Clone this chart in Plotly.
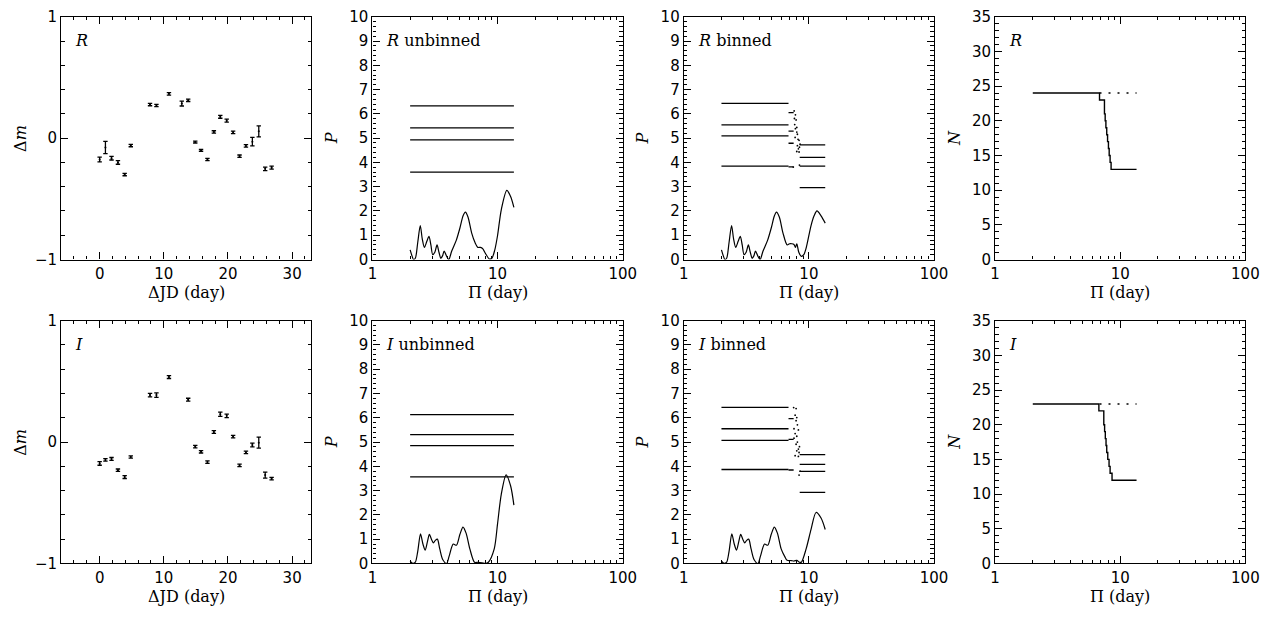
import plotly.graph_objects as go

W, H = 1283, 621

# ---------------- data ----------------
# light curves (ΔJD, Δm, error)
R_t = [0.0, 0.9, 1.85, 2.85, 3.9, 4.85, 7.85, 8.85, 10.8, 12.8, 13.8, 14.9, 15.8, 16.8,
       17.8, 18.8, 19.8, 20.8, 21.8, 22.8, 23.8, 24.8, 25.8, 26.8]
R_dm = [-0.176, -0.077, -0.165, -0.20, -0.30, -0.061, 0.277, 0.269, 0.365, 0.285, 0.312,
        -0.032, -0.10, -0.176, 0.051, 0.176, 0.144, 0.048, -0.149, -0.064, -0.029, 0.056,
        -0.253, -0.243]
R_err = [0.02, 0.05, 0.015, 0.015, 0.01, 0.01, 0.01, 0.01, 0.01, 0.02, 0.01, 0.008, 0.008,
         0.01, 0.01, 0.012, 0.012, 0.01, 0.01, 0.01, 0.035, 0.045, 0.015, 0.012]

I_t = [0.0, 0.9, 1.85, 2.85, 3.9, 4.85, 7.85, 8.85, 10.8, 13.8, 14.9, 15.8, 16.8, 17.8,
       18.8, 19.8, 20.8, 21.8, 22.8, 23.8, 24.8, 25.8, 26.8]
I_dm = [-0.176, -0.147, -0.139, -0.232, -0.288, -0.123, 0.387, 0.387, 0.536, 0.349, -0.037,
        -0.08, -0.165, 0.083, 0.229, 0.216, 0.045, -0.192, -0.085, -0.024, -0.005, -0.272,
        -0.301]
I_err = [0.015, 0.01, 0.012, 0.01, 0.012, 0.01, 0.015, 0.018, 0.012, 0.012, 0.01, 0.01, 0.01,
         0.012, 0.018, 0.015, 0.01, 0.01, 0.01, 0.015, 0.045, 0.025, 0.01]

# periodograms (period in days, power P)
R_unb_per = [2.0, 2.07, 2.13, 2.2, 2.3, 2.41, 2.5, 2.6, 2.72, 2.83, 2.93, 3.03, 3.15, 3.28,
             3.4, 3.52, 3.63, 3.74, 3.9, 4.07, 4.3, 4.68, 5.0, 5.3, 5.53, 5.8, 6.2, 6.6,
             6.96, 7.3, 7.6, 8.0, 8.6, 9.0, 9.5, 10.0, 10.7, 11.85, 12.7, 13.5]
R_unb_pow = [0.40, 0.15, 0.0, 0.05, 0.7, 1.40, 0.85, 0.50, 0.75, 0.95, 0.6, 0.2, 0.3, 0.6,
             0.3, 0.05, 0.15, 0.35, 0.15, 0.0, 0.35, 0.8, 1.3, 1.8, 1.95, 1.75, 1.1, 0.7,
             0.5, 0.5, 0.45, 0.25, 0.02, 0.05, 0.4, 1.0, 2.05, 2.85, 2.6, 2.15]

R_bin_per = [2.0, 2.07, 2.13, 2.2, 2.3, 2.41, 2.5, 2.6, 2.72, 2.83, 2.93, 3.03, 3.15, 3.28,
             3.4, 3.52, 3.63, 3.74, 3.9, 4.07, 4.3, 4.68, 5.0, 5.3, 5.5, 5.8, 6.2, 6.7,
             7.0, 7.3, 7.6, 7.8, 8.0, 8.3, 8.7, 9.1, 9.5, 10.4, 11.0, 11.6, 12.5, 13.5]
R_bin_pow = [0.40, 0.15, 0.0, 0.05, 0.7, 1.40, 0.85, 0.50, 0.75, 0.95, 0.6, 0.2, 0.3, 0.6,
             0.3, 0.05, 0.15, 0.35, 0.15, 0.0, 0.35, 0.8, 1.3, 1.8, 1.95, 1.75, 1.1, 0.6,
             0.65, 0.65, 0.62, 0.5, 0.65, 0.3, 0.13, 0.2, 0.47, 1.4, 1.8, 2.0, 1.8, 1.5]

I_unb_per = [2.0, 2.1, 2.2, 2.3, 2.42, 2.53, 2.64, 2.75, 2.85, 2.96, 3.07, 3.18, 3.3, 3.45,
             3.65, 3.91, 4.1, 4.42, 4.69, 5.0, 5.29, 5.6, 6.0, 6.54, 7.0, 7.5, 8.0, 8.44,
             9.4, 10.0, 10.7, 11.7, 12.7, 13.5]
I_unb_pow = [0.1, 0.0, 0.05, 0.5, 1.22, 0.8, 0.55, 0.9, 1.2, 1.0, 0.85, 0.95, 1.0, 0.6,
             0.15, 0.0, 0.3, 0.8, 0.75, 1.2, 1.5, 1.25, 0.6, 0.05, 0.05, 0.03, 0.0, 0.05,
             0.6, 1.65, 2.85, 3.65, 3.2, 2.4]

I_bin_per = [2.0, 2.1, 2.2, 2.3, 2.42, 2.53, 2.64, 2.75, 2.85, 2.96, 3.07, 3.18, 3.3, 3.45,
             3.65, 3.91, 4.1, 4.42, 4.69, 5.0, 5.29, 5.6, 6.0, 6.43, 6.7, 7.2, 7.6, 8.0,
             8.4, 8.7, 9.5, 10.4, 11.4, 12.5, 13.5]
I_bin_pow = [0.1, 0.0, 0.05, 0.5, 1.22, 0.8, 0.55, 0.9, 1.2, 1.0, 0.85, 0.95, 1.0, 0.6,
             0.15, 0.0, 0.3, 0.8, 0.75, 1.2, 1.5, 1.25, 0.6, 0.27, 0.13, 0.12, 0.1, 0.13,
             0.05, 0.05, 0.6, 1.4, 2.1, 1.87, 1.4]

# false-alarm threshold levels
R_unb_lev = [6.33, 5.42, 4.93, 3.60]
I_unb_lev = [6.13, 5.31, 4.85, 3.57]
R_bin_lev_lo = [6.43, 5.55, 5.09, 3.85]
R_bin_lev_hi = [4.72, 4.21, 3.85, 2.96]
I_bin_lev_lo = [6.43, 5.55, 5.07, 3.87]
I_bin_lev_hi = [4.48, 4.08, 3.79, 2.93]
lev_span = [2.0, 13.5]
lev_span_lo = [2.0, 6.87]
lev_span_hi = [8.44, 13.5]
lev_span_mid = [6.87, 7.55]
R_bin_lev_mid = [6.05, 5.29, 4.79, 3.82]
I_bin_lev_mid = [5.97, 5.11, 3.85]

# transition threshold points (binned)
R_dot_per = [7.62, 7.8, 7.66, 7.9, 7.7, 8.0, 7.8, 8.0, 8.09, 7.76, 8.19, 8.34, 8.5, 8.09,
             8.4, 8.24, 8.0, 8.34, 8.4, 7.5]
R_dot_pow = [6.12, 5.96, 5.81, 5.75, 5.56, 5.44, 5.39, 5.25, 5.16, 5.03, 4.95, 4.91, 4.75,
             4.69, 4.63, 4.56, 4.45, 4.43, 3.89, 3.81]
I_dot_per = [7.55, 7.9, 7.76, 8.0, 7.9, 8.09, 7.6, 8.24, 7.76, 8.0, 7.6, 8.09, 7.9, 8.4,
             8.24, 8.0, 8.34, 7.76, 8.24, 8.5, 8.34]
I_dot_pow = [6.42, 6.38, 6.11, 6.01, 5.88, 5.71, 5.55, 5.5, 5.35, 5.24, 5.16, 5.0, 4.91,
             4.81, 4.71, 4.64, 4.57, 4.44, 4.41, 3.8, 3.64]

# number of bins N vs period
R_N_per = [2.0, 6.83, 7.48, 7.58, 7.68, 7.8, 7.92, 8.05, 8.16, 8.3, 8.45, 13.5]
R_N_val = [24, 23, 21, 20, 19, 18, 17, 16, 15, 14, 13, 13]
I_N_per = [2.0, 6.75, 7.39, 7.5, 7.6, 7.7, 7.8, 7.95, 8.14, 8.3, 8.6, 13.5]
I_N_val = [23, 22, 20, 19, 18, 17, 16, 15, 14, 13, 12, 12]
R_N_all = 24
I_N_all = 23
N_dot_span = [6.83, 13.5]

# ---------------- layout geometry ----------------
col_left = [57, 373, 689, 1005]
row_top = [8, 321]
PW, PH = 254, 250

fig = go.Figure()
BLK = 'black'


def ax(k):
    return ('x' if k == 1 else f'x{k}'), ('y' if k == 1 else f'y{k}')


def line(k, x, y, **kw):
    xa, ya = ax(k)
    d = dict(color=BLK, width=1.2)
    d.update(kw.pop('ln', {}))
    fig.add_trace(go.Scatter(x=x, y=y, mode='lines', line=d, xaxis=xa, yaxis=ya,
                             showlegend=False, hoverinfo='skip', **kw))


def levels(k, span, levs):
    xs, ys = [], []
    for v in levs:
        xs += [span[0], span[1], None]
        ys += [v, v, None]
    line(k, xs, ys, ln=dict(width=1.3, shape='linear'))


def dots(k, x, y):
    xa, ya = ax(k)
    fig.add_trace(go.Scatter(x=x, y=y, mode='markers', marker=dict(size=1.8, color=BLK),
                             xaxis=xa, yaxis=ya, showlegend=False, hoverinfo='skip'))


def errs(k, x, y, e):
    xa, ya = ax(k)
    fig.add_trace(go.Scatter(x=x, y=y, mode='markers',
                             marker=dict(size=2, color=BLK),
                             error_y=dict(type='data', array=e, color=BLK, thickness=1.3,
                                          width=2.2),
                             xaxis=xa, yaxis=ya, showlegend=False, hoverinfo='skip'))


# row 1 (R)
errs(1, R_t, R_dm, R_err)
levels(2, lev_span, R_unb_lev)
line(2, R_unb_per, R_unb_pow, ln=dict(shape='spline', smoothing=0.8))
levels(3, lev_span_lo, R_bin_lev_lo)
levels(3, lev_span_hi, R_bin_lev_hi)
levels(3, lev_span_mid, R_bin_lev_mid)
dots(3, R_dot_per, R_dot_pow)
line(3, R_bin_per, R_bin_pow, ln=dict(shape='spline', smoothing=0.8))
line(4, N_dot_span, [R_N_all, R_N_all], ln=dict(dash='2px,7px', width=1.6))
line(4, R_N_per, R_N_val, ln=dict(shape='hv', width=1.4))

# row 2 (I)
errs(5, I_t, I_dm, I_err)
levels(6, lev_span, I_unb_lev)
line(6, I_unb_per, I_unb_pow, ln=dict(shape='spline', smoothing=0.8))
levels(7, lev_span_lo, I_bin_lev_lo)
levels(7, lev_span_hi, I_bin_lev_hi)
levels(7, lev_span_mid, I_bin_lev_mid)
dots(7, I_dot_per, I_dot_pow)
line(7, I_bin_per, I_bin_pow, ln=dict(shape='spline', smoothing=0.8))
line(8, N_dot_span, [I_N_all, I_N_all], ln=dict(dash='2px,7px', width=1.6))
line(8, I_N_per, I_N_val, ln=dict(shape='hv', width=1.4))

TICKFONT = dict(family='DejaVu Sans', size=15, color=BLK)
base = dict(showline=True, linecolor=BLK, linewidth=1.2, mirror='allticks',
            ticks='inside', ticklen=7, tickwidth=1, tickcolor=BLK, showgrid=False,
            zeroline=False, tickfont=TICKFONT, fixedrange=True)

layout = dict(width=W, height=H, margin=dict(l=0, r=0, t=0, b=0),
              paper_bgcolor='white', plot_bgcolor='white', showlegend=False)

for r in range(2):
    for c in range(4):
        k = r * 4 + c + 1
        xd = [col_left[c] / W, (col_left[c] + PW) / W]
        yd = [1 - (row_top[r] + PH) / H, 1 - row_top[r] / H]
        xa = dict(base, domain=xd, anchor=ax(k)[1])
        ya = dict(base, domain=yd, anchor=ax(k)[0])
        if c == 0:
            xa.update(range=[-6, 33], tick0=0, dtick=10,
                      minor=dict(ticks='inside', ticklen=3.5, tickcolor=BLK, tick0=0, dtick=2))
            ya.update(range=[-1, 1], tick0=0, dtick=1,
                      minor=dict(ticks='inside', ticklen=3.5, tickcolor=BLK, tick0=0, dtick=0.2))
        else:
            xa.update(type='log', range=[0, 2], dtick=1,
                      minor=dict(ticks='inside', ticklen=3.5, tickcolor=BLK, dtick='D1'))
            if c in (1, 2):
                ya.update(range=[0, 10], tick0=0, dtick=1,
                          minor=dict(ticks='inside', ticklen=3.5, tickcolor=BLK, tick0=0, dtick=0.2))
            else:
                ya.update(range=[0, 35], tick0=0, dtick=5,
                          minor=dict(ticks='inside', ticklen=3.5, tickcolor=BLK, tick0=0, dtick=1))
        layout['xaxis' if k == 1 else f'xaxis{k}'] = xa
        layout['yaxis' if k == 1 else f'yaxis{k}'] = ya

fig.update_layout(**layout)

LBLFONT = dict(family='DejaVu Serif', size=16, color=BLK)
ann = []


def add_text(px, py, text, xanchor='center', angle=0):
    ann.append(dict(x=px / W, y=1 - py / H, xref='paper', yref='paper', text=text,
                    showarrow=False, xanchor=xanchor, yanchor='middle', textangle=angle,
                    font=LBLFONT))


panel_labels = [['<i>R</i>', '<i>R</i> unbinned', '<i>R</i> binned', '<i>R</i>'],
                ['<i>I</i>', '<i>I</i> unbinned', '<i>I</i> binned', '<i>I</i>']]
xtitles = ['ΔJD (day)', 'Π (day)', 'Π (day)', 'Π (day)']
ytitles = ['Δ<i>m</i>', '<i>P</i>', '<i>P</i>', '<i>N</i>']

for r in range(2):
    for c in range(4):
        add_text(col_left[c] + 12, row_top[r] + 24, panel_labels[r][c], xanchor='left')
        add_text(col_left[c] + PW / 2, row_top[r] + PH + 34, xtitles[c])
        add_text(col_left[c] - 42, row_top[r] + PH / 2, ytitles[c], angle=-90)

fig.update_layout(annotations=ann)
fig.write_html('out.html')
